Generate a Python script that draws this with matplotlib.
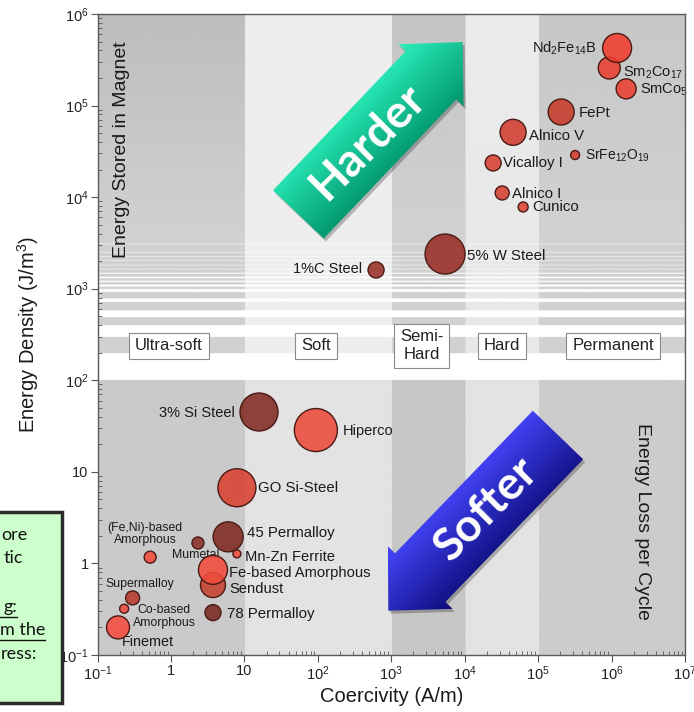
import numpy as np
import matplotlib
matplotlib.use("Agg")
import matplotlib.pyplot as plt
from matplotlib.colors import to_rgb, to_rgba
from matplotlib.patches import FancyArrow, Rectangle
from matplotlib.ticker import LogLocator, NullFormatter

plt.rcParams['font.family'] = ['Liberation Sans', 'DejaVu Sans']
plt.rcParams['mathtext.fontset'] = 'custom'
plt.rcParams['mathtext.rm'] = 'Liberation Sans'
plt.rcParams['mathtext.it'] = 'Liberation Sans:italic'
plt.rcParams['mathtext.bf'] = 'Liberation Sans:bold'
plt.rcParams['mathtext.default'] = 'regular'

# --- materials: coercivity (A/m) vs stored energy density (J/m^3) ---
materials = ['Sm$_2$Co$_{17}$', 'Nd$_2$Fe$_{14}$B', 'SmCo$_5$', 'FePt', 'Alnico V',
             'SrFe$_{12}$O$_{19}$', 'Vicalloy I', 'Alnico I', 'Cunico', '5% W Steel',
             '1%C Steel', '3% Si Steel', 'Hiperco', 'GO Si-Steel', '45 Permalloy',
             '(Fe,Ni)-based\nAmorphous', 'Mn-Zn Ferrite', 'Mumetal', 'Sendust',
             'Fe-based Amorphous', 'Supermalloy', 'Co-based\nAmorphous', 'Finemet',
             '78 Permalloy']
coercivity = [9.3e5, 1.19e6, 1.58e6, 2.06e5, 4.56e4,
              3.19e5, 2.44e4, 3.24e4, 6.25e4, 5.4e3,
              621, 15.8, 94, 7.9, 6.0,
              2.33, 7.9, 0.52, 3.73,
              3.73, 0.30, 0.23, 0.19,
              3.73]
energy = [2.57e5, 4.25e5, 1.52e5, 8.5e4, 5.1e4,
          2.88e4, 2.36e4, 1.11e4, 7.8e3, 2.39e3,
          1.6e3, 45, 28.6, 6.7, 1.95,
          1.67, 1.27, 1.17, 0.58,
          0.85, 0.42, 0.32, 0.20,
          0.29]

# bubble radius in pixels and fill colour
radius_px = [11, 14.5, 10, 13, 13,
             4.5, 8, 7, 5, 20,
             8, 19, 21.5, 19, 15,
             6, 4, 6, 12.5,
             14.5, 7, 4.5, 11.5,
             8]
fill_colors = ['#e8402f', '#f03c2d', '#e8402f', '#c8392b', '#cf3b2d',
               '#d63a2e', '#d8412f', '#d5412f', '#dc4431', '#9a2c25',
               '#9a2f27', '#812b22', '#ec4b3a', '#d9412f', '#7f2920',
               '#8c3026', '#f04c3c', '#f04b3a', '#c6402f',
               '#f24c3c', '#b83a2c', '#f04c3c', '#f54c3d',
               '#7a2820']

# label offset from bubble centre (pixels, right / down), alignment and size
label_dx = [14, -20, 14, 18, 16, 10, 10, 10, 9, 22, -14, -24, 27, 21, 19,
            -53, 8, 22, 16, 16, 7, 40, 4, 14]
label_dy = [5, 0, 1, 1, 4, 1, 0, 1, 0, 2, -1, 1, 1, 0, -4,
            -9, 3, -2, 4, 3, -14, 8, 15, 1]
label_ha = ['left', 'right', 'left', 'left', 'left', 'left', 'left', 'left', 'left',
            'left', 'right', 'right', 'left', 'left', 'left', 'center', 'left',
            'left', 'left', 'left', 'center', 'center', 'left', 'left']
label_size = [10.5, 10.5, 10.5, 10.8, 10.8, 10, 10.8, 10.8, 10.8, 10.8, 10.5, 10.5,
              10.5, 10.8, 10.8, 8.8, 10.6, 8.8, 10.6, 10.6, 8.8, 8.8, 10.4, 10.8]

# coercivity classes
band_edges = [0.1, 10, 1e3, 1e4, 1e5, 1e7]
band_names = ['Ultra-soft', 'Soft', 'Semi-\nHard', 'Hard', 'Permanent']
band_label_x = [0.94, 94, 2590, 3.24e4, 1.05e6]
band_label_y = 237

# white gaps of the striped zone between 10^2 and ~3x10^3 J/m^3
stripe_gaps = [(100, 195), (292, 393), (484, 573), (706, 769), (908, 975),
               (1040, 1090), (1160, 1205), (1290, 1330), (1440, 1475),
               (1600, 1630), (1780, 1805), (1980, 2000), (2200, 2218),
               (2450, 2465), (2720, 2733), (3030, 3040), (3370, 3378)]

x_ticks = [1e-1, 1, 10, 1e2, 1e3, 1e4, 1e5, 1e6, 1e7]
x_tick_labels = ['$10^{-1}$', '1', '10', '$10^{2}$', '$10^{3}$', '$10^{4}$',
                 '$10^{5}$', '$10^{6}$', '$10^{7}$']
y_ticks = [1e-1, 1, 10, 1e2, 1e3, 1e4, 1e5, 1e6]
y_tick_labels = ['$10^{-1}$', '1', '10', '$10^{2}$', '$10^{3}$', '$10^{4}$',
                 '$10^{5}$', '$10^{6}$']

W_PX, H_PX = 694, 712
fig = plt.figure(figsize=(W_PX / 100, H_PX / 100), dpi=100)
rect = [0.1406, 0.0801, 0.8464, 0.9003]

# shaded background: vertical class bands, darker towards the top
bg = fig.add_axes(rect, zorder=0)
nrow, ncol = 1300, 1200
ly = 6 - 7 * (np.arange(nrow) + 0.5) / nrow
lx = -1 + 8 * (np.arange(ncol) + 0.5) / ncol
LX, LY = np.meshgrid(lx, ly)
idx = np.clip(np.searchsorted(np.log10(band_edges), LX, side='right') - 1, 0, 4)
top_gray = np.array([0.74, 0.93, 0.77, 0.92, 0.78])[idx]
mid_gray = np.array([0.82, 0.93, 0.82, 0.91, 0.82])[idx]
low_gray = np.array([0.79, 0.89, 0.78, 0.89, 0.80])[idx]
frac = np.clip((6 - LY) / 2.5, 0, 1)
gray = top_gray + (mid_gray - top_gray) * frac
gray = np.where(LY < 2, low_gray, gray)
for lo, hi in stripe_gaps:
    gray[(LY >= np.log10(lo)) & (LY < np.log10(hi))] = 1.0
bg.imshow(gray, extent=[0, 1, 0, 1], aspect='auto', cmap='gray', vmin=0, vmax=1,
          interpolation='antialiased')
bg.axis('off')

ax = fig.add_axes(rect, zorder=1)
ax.set_facecolor('none')
ax.set_xscale('log')
ax.set_yscale('log')

sizes = [(1.44 * r) ** 2 for r in radius_px]
ax.scatter(coercivity, energy, s=sizes, c=[to_rgba(c, 0.88) for c in fill_colors],
           edgecolors='#4a1a14', linewidths=1.0, zorder=3)

for i, name in enumerate(materials):
    ax.annotate(name, (coercivity[i], energy[i]),
                xytext=(label_dx[i] * 0.72, -label_dy[i] * 0.72),
                textcoords='offset points', ha=label_ha[i], va='center',
                multialignment='center', linespacing=1.1,
                fontsize=label_size[i], color='#1a1a1a', zorder=2)

for name, xc in zip(band_names, band_label_x):
    ax.text(xc, band_label_y, name, ha='center', va='center', fontsize=12,
            color='#222', linespacing=1.25, zorder=2,
            bbox=dict(boxstyle='square,pad=0.35', fc='white', ec='#8a8a8a', lw=0.8))

ax.text(0.0415, 0.789, 'Energy Stored in Magnet', transform=ax.transAxes,
        rotation=90, ha='center', va='center', fontsize=14, color='#1a1a1a')
ax.text(0.927, 0.209, 'Energy Loss per Cycle', transform=ax.transAxes,
        rotation=-90, ha='center', va='center', fontsize=14, color='#1a1a1a')

ax.set_xlim(0.1, 1e7)
ax.set_ylim(0.1, 1e6)
ax.set_xticks(x_ticks, labels=x_tick_labels)
ax.set_yticks(y_ticks, labels=y_tick_labels)
for axis in (ax.xaxis, ax.yaxis):
    axis.set_minor_locator(LogLocator(base=10, subs=np.arange(2, 10), numticks=20))
    axis.set_minor_formatter(NullFormatter())
ax.tick_params(which='major', direction='out', length=5, width=0.8, color='#555',
               labelsize=10.5, labelcolor='#222', pad=1.5)
ax.tick_params(which='minor', direction='in', length=3, width=0.6, color='#555')
for sp in ax.spines.values():
    sp.set_color('#5a5a5a')
    sp.set_linewidth(1.0)
ax.set_xlabel('Coercivity (A/m)', fontsize=14.5, color='#1a1a1a', labelpad=3)
ax.set_ylabel('Energy Density (J/m$^3$)', fontsize=14.5, color='#1a1a1a')
ax.yaxis.set_label_coords(-0.097, 0.5)

# overlay in pixel coordinates for the arrows and the side note
deco = fig.add_axes([0, 0, 1, 1], zorder=5)
deco.axis('off')


def gradient_arrow(tail, tip, light, dark, text):
    tail = np.asarray(tail, float)
    tip = np.asarray(tip, float)
    d = tip - tail
    kw = dict(width=70, head_width=90, head_length=46, length_includes_head=True)
    shadow = FancyArrow(tail[0] + 2, tail[1] + 3, d[0], d[1], fc='k', ec='none',
                        alpha=0.25, zorder=5, **kw)
    arrow = FancyArrow(tail[0], tail[1], d[0], d[1], fc='none', ec='none',
                       zorder=6, **kw)
    deco.add_patch(shadow)
    deco.add_patch(arrow)
    verts = arrow.get_xy()
    x0, y0 = verts.min(axis=0)
    x1, y1 = verts.max(axis=0)
    gx, gy = np.meshgrid(np.linspace(x0, x1, 300), np.linspace(y0, y1, 300))
    proj = verts[:, 0] + verts[:, 1]
    t = np.clip((gx + gy - proj.min()) / (proj.max() - proj.min()), 0, 1)[..., None]
    rgb = np.array(to_rgb(light)) * (1 - t) + np.array(to_rgb(dark)) * t
    im = deco.imshow(rgb, extent=[x0, x1, y1, y0], origin='upper', aspect='auto',
                     interpolation='bilinear', zorder=6)
    im.set_clip_path(arrow)
    mid = tail + 0.42 * d
    deco.text(mid[0], mid[1], text, rotation=45, ha='center', va='center',
              fontsize=33, fontweight='bold', family=['Lato', 'DejaVu Sans'],
              color='white', zorder=7)


gradient_arrow((298.4, 214.4), (462.7, 42), '#2cf0bd', '#00936a', 'Harder')
gradient_arrow((558, 435), (388.3, 610.7), '#4646ff', '#0c0c78', 'Softer')

# side note box, cut by the left edge
deco.add_patch(Rectangle((-10, 512), 72, 191, fc='#ccffcc', ec='#2b2b2b', lw=2.5,
                         zorder=5))
note_lines = ['ore', 'tic', 'g:', 'm the', 'ress:']
note_right = [28, 23, 17, 45, 37]
note_y = [535, 558, 607, 630, 654]
for s, xr, yc in zip(note_lines, note_right, note_y):
    deco.text(xr, yc, s, ha='right', va='center', fontsize=13,
              family=['Lato', 'DejaVu Sans'], color='#111', zorder=6)
deco.plot([0, 17], [617, 617], color='#111', lw=1.0, zorder=6)
deco.plot([0, 45], [640, 640], color='#111', lw=1.0, zorder=6)

deco.set_xlim(0, W_PX)
deco.set_ylim(H_PX, 0)

fig.savefig('out.png', dpi=100)
